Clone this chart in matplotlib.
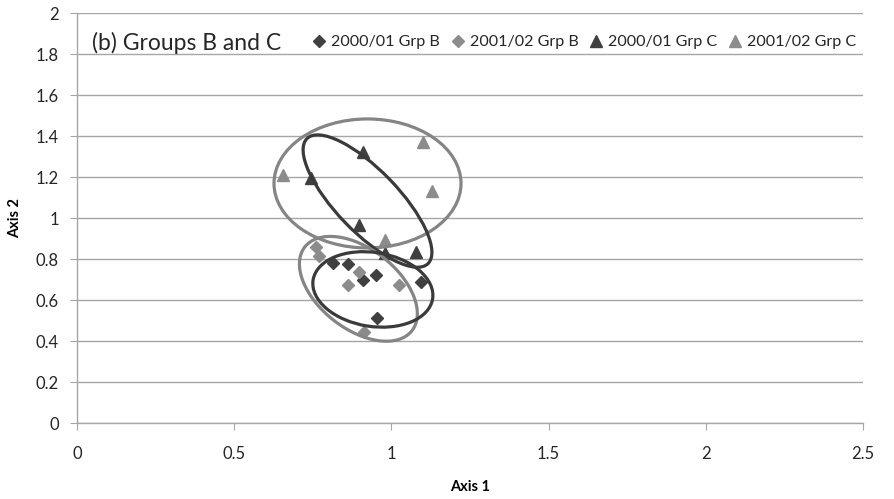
import matplotlib
matplotlib.use("Agg")
import matplotlib.pyplot as plt
from matplotlib.patches import Ellipse
from matplotlib.transforms import ScaledTranslation
import numpy as np

# Data
b0001_x = [0.813, 0.863, 0.909, 0.951, 1.095, 0.955]
b0001_y = [0.780, 0.776, 0.699, 0.725, 0.691, 0.512]
b0102_x = [0.760, 0.771, 0.898, 0.863, 1.025, 0.914]
b0102_y = [0.861, 0.816, 0.740, 0.673, 0.673, 0.447]
c0001_x = [0.911, 0.744, 0.898, 1.078, 0.979]
c0001_y = [1.325, 1.195, 0.967, 0.834, 0.829]
c0102_x = [1.101, 0.654, 1.129, 0.980]
c0102_y = [1.374, 1.211, 1.135, 0.894]
labels = ["2000/01 Grp B", "2001/02 Grp B", "2000/01 Grp C", "2001/02 Grp C"]

# ellipses: center (data), width/height (inches), angle (deg), color
ellipses = [
    ((0.924, 1.170), 1.87, 1.29, 0, "#858585"),
    ((0.924, 1.084), 1.74, 0.62, -46, "#3a3a3a"),
    ((0.895, 0.656), 1.36, 0.80, -38, "#858585"),
    ((0.941, 0.653), 1.21, 0.74, -9, "#3a3a3a"),
]

dark = "#404040"
light = "#8c8c8c"
plt.rcParams['font.family'] = ['Lato', 'DejaVu Sans']

fig = plt.figure(figsize=(8.94, 4.99), dpi=100)
ax = fig.add_axes([77/894, 1-423.3/499, (863-77)/894, (423.3-13.3)/499])

ax.plot(b0001_x, b0001_y, 'D', color=dark, ms=6.5, ls='none', label=labels[0], zorder=3)
ax.plot(b0102_x, b0102_y, 'D', color=light, ms=6.5, ls='none', label=labels[1], zorder=3)
ax.plot(c0001_x, c0001_y, '^', color=dark, ms=9, ls='none', label=labels[2], zorder=3)
ax.plot(c0102_x, c0102_y, '^', color=light, ms=9, ls='none', label=labels[3], zorder=4)

for (cx, cy), w, h, ang, col in ellipses:
    tr = fig.dpi_scale_trans + ScaledTranslation(cx, cy, ax.transData)
    e = Ellipse((0, 0), w, h, angle=ang, transform=tr, fill=False,
                edgecolor=col, lw=2.3, zorder=5)
    ax.add_artist(e)

ax.set_xlim(0, 2.5)
ax.set_ylim(0, 2)
ax.set_xticks(np.arange(0, 2.51, 0.5))
ax.set_xticklabels(["0", "0.5", "1", "1.5", "2", "2.5"])
ax.set_yticks(np.arange(0, 2.01, 0.2))
ax.set_yticklabels(["0", "0.2", "0.4", "0.6", "0.8", "1", "1.2", "1.4", "1.6", "1.8", "2"])
ax.yaxis.grid(True, color="#a6a6a6", lw=1.0)
ax.set_axisbelow(True)
for s in ["top", "right"]:
    ax.spines[s].set_visible(False)
for s in ["left", "bottom"]:
    ax.spines[s].set_color("#a6a6a6")
    ax.spines[s].set_linewidth(1.0)
ax.tick_params(axis='both', colors="#a6a6a6", labelcolor="#262626", labelsize=12, length=5, direction='out')
ax.tick_params(axis='x', pad=11)
ax.tick_params(axis='y', pad=8)
ax.set_xlabel("Axis 1", fontsize=10.5, fontweight='bold', labelpad=13)
ax.set_ylabel("Axis 2", fontsize=10.5, fontweight='bold', labelpad=10)

ax.text(0.019, 0.927, "(b) Groups B and C", transform=ax.transAxes, fontsize=16.5,
        color="#262626", va='center', ha='left')
leg = ax.legend(loc='upper right', bbox_to_anchor=(1.0, 0.963), ncol=4, frameon=False,
                fontsize=11.6, handletextpad=0.15, columnspacing=0.5, handlelength=1.2,
                borderaxespad=0)
for t in leg.get_texts():
    t.set_color("#262626")

fig.savefig("out.png", dpi=100)
